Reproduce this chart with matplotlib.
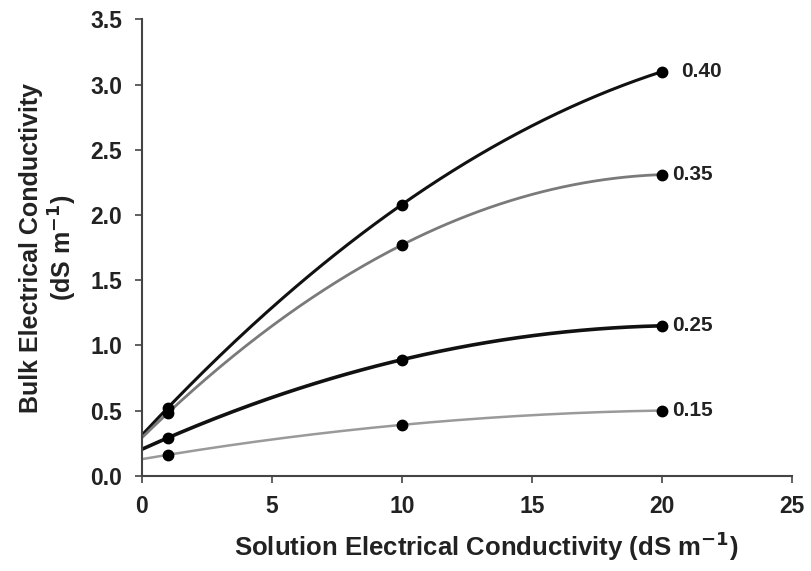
import matplotlib.pyplot as plt
import numpy as np

plt.rcParams['font.family'] = ['Liberation Sans', 'DejaVu Sans']
plt.rcParams['font.weight'] = 'bold'

# solution EC values where bulk EC was measured
solutionEC = [1, 10, 20]

# water content classes and measured bulk EC (dS m-1)
waterContent = ['0.40', '0.35', '0.25', '0.15']
bulkEC = [
    [0.52, 2.08, 3.10],
    [0.48, 1.77, 2.31],
    [0.29, 0.89, 1.15],
    [0.16, 0.39, 0.50],
]

lineColors = ['#111111', '#7a7a7a', '#111111', '#9a9a9a']
lineWidths = [2.2, 2.0, 2.6, 1.8]
labelOffset = [0.75, 0.4, 0.4, 0.4]

fig = plt.figure(figsize=(8.11, 5.71), dpi=100)
ax = fig.add_axes([0.1747, 0.1669, 0.802, 0.799])

xs = np.linspace(0, 20, 200)
for name, vals, col, lw, off in zip(waterContent, bulkEC, lineColors, lineWidths, labelOffset):
    # quadratic trend through the measured points
    coef = np.polyfit(solutionEC, vals, 2)
    ax.plot(xs, np.polyval(coef, xs), color=col, linewidth=lw, zorder=1)
    ax.plot(solutionEC, vals, 'o', color='black', markersize=7.5, zorder=2)
    ax.text(solutionEC[-1] + off, vals[-1], name, fontsize=15, fontweight='bold',
            va='center', ha='left', color='#222222')

ax.set_xlim(0, 25)
ax.set_ylim(0, 3.5)
ax.set_xticks([0, 5, 10, 15, 20, 25])
ax.set_yticks(np.arange(0, 3.6, 0.5))
ax.yaxis.set_major_formatter(plt.FormatStrFormatter('%.1f'))

for s in ['top', 'right']:
    ax.spines[s].set_visible(False)
for s in ['left', 'bottom']:
    ax.spines[s].set_color('#444444')
    ax.spines[s].set_linewidth(1.5)

ax.tick_params(axis='both', direction='out', length=5, width=1.2, color='#444444',
               labelsize=16.5, colors='#222222')
ax.tick_params(axis='x', pad=9)
ax.tick_params(axis='y', pad=9)
for lab in ax.get_xticklabels() + ax.get_yticklabels():
    lab.set_fontweight('bold')

ax.set_xlabel('Solution Electrical Conductivity (dS m$^{\\mathbf{-1}}$)', fontsize=18.5,
              fontweight='bold', labelpad=8, color='#222222')
ax.xaxis.label.set_x(0.53)
ax.set_ylabel('Bulk Electrical Conductivity\n(dS m$^{\\mathbf{-1}}$)', fontsize=18,
              fontweight='bold', labelpad=8, color='#222222', linespacing=1.15)

plt.savefig('out.png', dpi=100)
